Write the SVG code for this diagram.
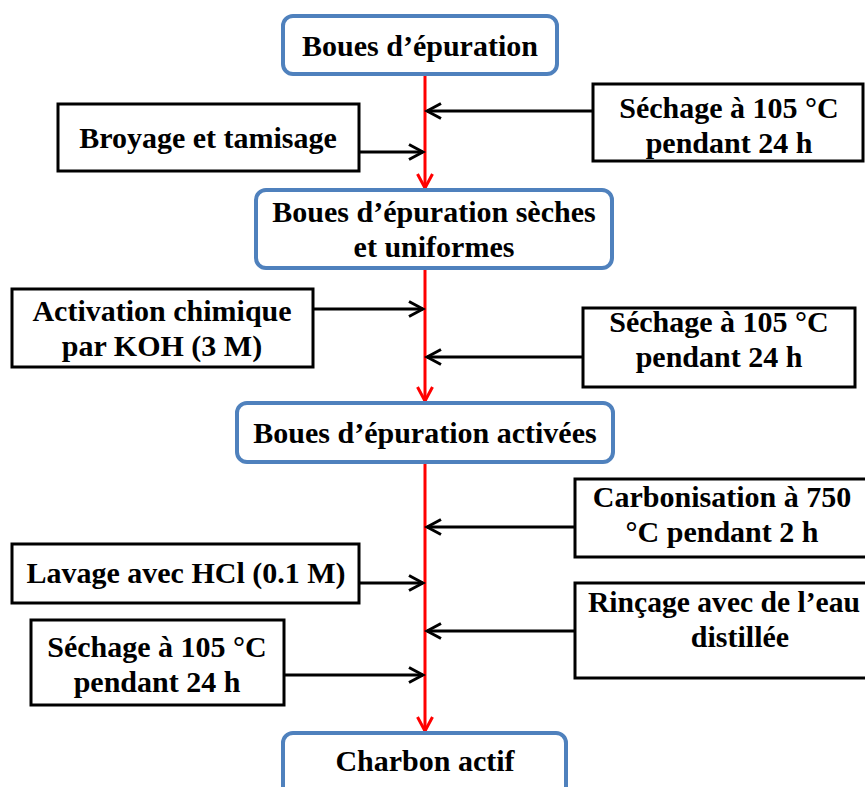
<svg xmlns="http://www.w3.org/2000/svg" width="865" height="787" viewBox="0 0 865 787">
<defs>
<style>
.blue{fill:#fff;stroke:#4F81BD;stroke-width:4}
.box{fill:#fff;stroke:#000;stroke-width:3}
text{font-family:"Liberation Serif","Times New Roman",serif;font-weight:bold;font-size:30px;fill:#000;text-anchor:middle}
.red{stroke:#FF0000;stroke-width:3;fill:none}
.blk{stroke:#000;stroke-width:3;fill:none}
</style>
<marker id="ab" markerWidth="18" markerHeight="18" refX="15" refY="9" orient="auto" markerUnits="userSpaceOnUse">
<path d="M1,1.5 L15,9 L1,16.5" fill="none" stroke="#000" stroke-width="3"/>
</marker>
<marker id="ar" markerWidth="18" markerHeight="18" refX="15" refY="9" orient="auto" markerUnits="userSpaceOnUse">
<path d="M1,1.5 L15,9 L1,16.5" fill="none" stroke="#FF0000" stroke-width="3"/>
</marker>
</defs>
<rect width="865" height="787" fill="#fff"/>
<g id="connectors">
<line class="red" x1="425" y1="74" x2="425" y2="188" marker-end="url(#ar)"/>
<line class="red" x1="425" y1="268" x2="425" y2="401" marker-end="url(#ar)"/>
<line class="red" x1="425" y1="462" x2="425" y2="731" marker-end="url(#ar)"/>
<line class="blk" x1="593" y1="111" x2="427" y2="111" marker-end="url(#ab)"/>
<line class="blk" x1="359" y1="152" x2="423" y2="152" marker-end="url(#ab)"/>
<line class="blk" x1="313" y1="309" x2="423" y2="309" marker-end="url(#ab)"/>
<line class="blk" x1="583" y1="357" x2="427" y2="357" marker-end="url(#ab)"/>
<line class="blk" x1="575" y1="527" x2="427" y2="527" marker-end="url(#ab)"/>
<line class="blk" x1="359" y1="583" x2="423" y2="583" marker-end="url(#ab)"/>
<line class="blk" x1="575" y1="631" x2="427" y2="631" marker-end="url(#ab)"/>
<line class="blk" x1="284" y1="675" x2="423" y2="675" marker-end="url(#ab)"/>
</g>
<g id="n1"><rect class="blue" x="283" y="16" width="274" height="58" rx="10"/><text x="420" y="56">Boues d’épuration</text></g>
<g id="n2"><rect class="box" x="58" y="104" width="301" height="67"/><text x="208" y="148">Broyage et tamisage</text></g>
<g id="n3"><rect class="box" x="593" y="84" width="270" height="77"/><text x="729" y="118">Séchage à 105 °C</text><text x="729" y="153">pendant 24 h</text></g>
<g id="n4"><rect class="blue" x="256" y="190" width="356" height="78" rx="10"/><text x="434" y="222">Boues d’épuration sèches</text><text x="434" y="257">et uniformes</text></g>
<g id="n5"><rect class="box" x="12" y="289" width="301" height="78"/><text x="162" y="321">Activation chimique</text><text x="162" y="356">par KOH (3 M)</text></g>
<g id="n6"><rect class="box" x="583" y="308" width="272" height="79"/><text x="719" y="332">Séchage à 105 °C</text><text x="719" y="367">pendant 24 h</text></g>
<g id="n7"><rect class="blue" x="237" y="403" width="376" height="59" rx="10"/><text x="425" y="443">Boues d’épuration activées</text></g>
<g id="n8"><rect class="box" x="575" y="479" width="310" height="78"/><text x="722" y="507">Carbonisation à 750</text><text x="722" y="542">°C pendant 2 h</text></g>
<g id="n9"><rect class="box" x="12" y="544" width="347" height="59"/><text x="186" y="583">Lavage avec HCl (0.1 M)</text></g>
<g id="n10"><rect class="box" x="575" y="583" width="310" height="95"/><text x="724" y="612" textLength="272" lengthAdjust="spacingAndGlyphs">Rinçage avec de l’eau</text><text x="740" y="647">distillée</text></g>
<g id="n11"><rect class="box" x="31" y="620" width="253" height="85"/><text x="157" y="657">Séchage à 105 °C</text><text x="157" y="692">pendant 24 h</text></g>
<g id="n12"><rect class="blue" x="283" y="733" width="283" height="80" rx="10"/><text x="425" y="771">Charbon actif</text></g>
</svg>
